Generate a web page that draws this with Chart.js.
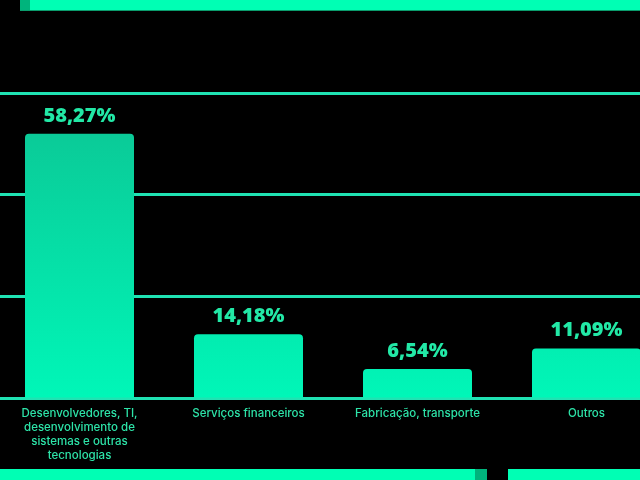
<!DOCTYPE html>
<html>
<head>
<meta charset="utf-8">
<script src="https://cdn.jsdelivr.net/npm/chart.js@4"></script>
<style>
  html, body { margin: 0; padding: 0; background: #000; overflow: hidden; width: 640px; height: 480px; }
  #wrap { position: absolute; left: -5px; top: 0; width: 676px; height: 480px; }
  .strip { position: absolute; background: #00ffb4; }
  .dark { position: absolute; background: #00b47c; }
</style>
</head>
<body>
<div id="wrap"><canvas id="chart"></canvas></div>
<div class="strip" style="left:20px; top:0; width:620px; height:10px; border-bottom:1px solid #0a9c6c;"></div>
<div class="dark" style="left:20px; top:0; width:10px; height:10px;"></div>
<div class="strip" style="left:0; top:469px; width:487px; height:11px;"></div>
<div class="dark" style="left:475px; top:469px; width:12px; height:11px;"></div>
<div class="strip" style="left:508px; top:469px; width:132px; height:11px;"></div>
<script>
const categories = [
    ['Desenvolvedores, TI,', 'desenvolvimento de', 'sistemas e outras', 'tecnologias'],
    'Serviços financeiros',
    'Fabricação, transporte',
    'Outros'
];
const values = [58.27, 14.18, 6.54, 11.09];
const valueLabels = ['58,27%', '14,18%', '6,54%', '11,09%'];
const gridTicks = [0, 22.4, 44.8, 67.2];

// rótulos de valor acima das barras
const valueLabelPlugin = {
    id: 'valueLabels',
    afterDatasetsDraw(chart) {
        const ctx = chart.ctx;
        const meta = chart.getDatasetMeta(0);
        ctx.save();
        ctx.fillStyle = '#22e8a6';
        ctx.font = '800 20px "Open Sans"';
        ctx.textAlign = 'center';
        ctx.textBaseline = 'alphabetic';
        meta.data.forEach((bar, i) => {
            const p = bar.getProps(['x', 'y'], true);
            ctx.fillText(valueLabels[i], p.x, p.y - 12);
        });
        ctx.restore();
    }
};

const ctx = document.getElementById('chart').getContext('2d');
new Chart(ctx, {
    type: 'bar',
    data: {
        labels: categories,
        datasets: [{
            data: values,
            backgroundColor: (c) => {
                const area = c.chart.chartArea;
                if (!area) return '#00eeb0';
                const g = c.chart.ctx.createLinearGradient(0, area.top, 0, area.bottom);
                g.addColorStop(0, '#0cc493');
                g.addColorStop(1, '#00f7b8');
                return g;
            },
            borderRadius: { topLeft: 4, topRight: 4 },
            borderSkipped: 'bottom',
            categoryPercentage: 1,
            barPercentage: 0.645
        }]
    },
    options: {
        responsive: true,
        maintainAspectRatio: false,
        animation: false,
        layout: { padding: { top: 93, left: 0, right: 0, bottom: 17 } },
        plugins: {
            legend: { display: false },
            tooltip: { enabled: false }
        },
        scales: {
            x: {
                grid: { display: false },
                border: { display: false },
                ticks: {
                    color: '#2de3a8',
                    font: { family: 'Inter', size: 11.5, weight: 500, lineHeight: 1.22 },
                    padding: 0,
                    maxRotation: 0,
                    autoSkip: false
                }
            },
            y: {
                min: 0,
                max: 67.2,
                afterBuildTicks: (axis) => { axis.ticks = gridTicks.map(v => ({ value: v })); },
                grid: { color: '#1fe3b3', lineWidth: 3, drawTicks: false },
                border: { display: false },
                ticks: { display: false }
            }
        }
    },
    plugins: [valueLabelPlugin]
});
</script>
</body>
</html>
